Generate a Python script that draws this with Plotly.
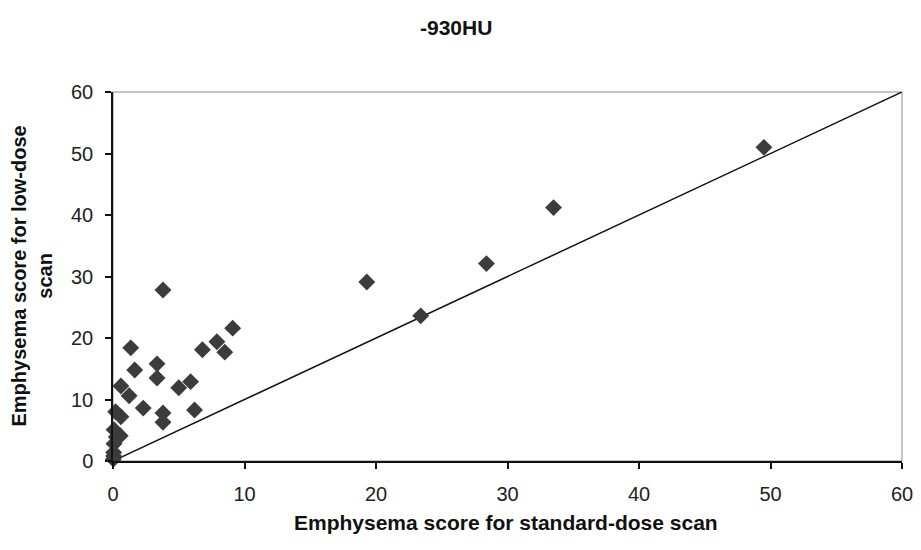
import plotly.graph_objects as go

# standard-dose score (x) vs low-dose score (y)
standard_dose = [49.5, 33.5, 28.4, 23.4, 19.3, 3.8, 9.1, 7.9, 8.5, 6.8,
                 1.35, 3.35, 1.65, 3.35, 5.9, 5.0, 0.6, 1.23, 2.3, 6.2,
                 3.8, 3.8, 0.2, 0.6, 0.08, 0.55, 0.25, 0.08, 0.05, 0.05, 0.03]
low_dose = [51.0, 41.2, 32.1, 23.6, 29.1, 27.8, 21.6, 19.4, 17.7, 18.1,
            18.4, 15.8, 14.8, 13.5, 12.9, 11.9, 12.2, 10.6, 8.6, 8.3,
            7.8, 6.3, 8.0, 7.2, 5.1, 4.1, 3.9, 2.8, 1.4, 0.8, 0.3]
identity_line = [0, 60]

ticks = [0, 10, 20, 30, 40, 50, 60]
tick_labels = ["0", "10", "20", "30", "40", "50", "60"]

chart_title = "-930HU"
x_title = "Emphysema score for standard-dose scan"
y_title = "Emphysema score for low-dose<br>scan"

font_family = "Liberation Sans, Arial, sans-serif"
ink = "#111111"

fig = go.Figure()
fig.add_trace(go.Scatter(
    x=identity_line, y=identity_line, mode="lines",
    line=dict(color=ink, width=1.5), showlegend=False, hoverinfo="skip"))
fig.add_trace(go.Scatter(
    x=standard_dose, y=low_dose, mode="markers", cliponaxis=False,
    marker=dict(symbol="diamond", size=13, color="#3c3c3c"),
    showlegend=False))

# page has an 8px body margin; plot box in page pixels: x 113..902, y 92..461
OFF = 8
PX0, PX1, PY0, PY1 = 113, 902, 92, 461
W, H = 921 - OFF, 550 - OFF
L, T = PX0 - OFF, PY0 - OFF
R, B = W - (PX1 - OFF), H - (PY1 - OFF)
pw, ph = PX1 - PX0, PY1 - PY0

def px(xp):
    return (xp - PX0) / pw

def py(yp):
    return (PY1 - yp) / ph

fig.update_layout(
    width=W, height=H,
    margin=dict(l=L, r=R, t=T, b=B, autoexpand=False),
    paper_bgcolor="white", plot_bgcolor="white",
    font=dict(family=font_family, color=ink),
    shapes=[dict(type="rect", xref="paper", yref="paper", x0=0, y0=0, x1=1, y1=1,
                 line=dict(color="#8c8c8c", width=1), layer="below")],
    annotations=[
        dict(text="<b>" + chart_title + "</b>", xref="paper", yref="paper",
             x=px(456), y=py(27), xanchor="center", yanchor="middle",
             showarrow=False, font=dict(size=21, color=ink)),
        dict(text="<b>" + x_title + "</b>", xref="paper", yref="paper",
             x=px(506), y=py(522), xanchor="center", yanchor="middle",
             showarrow=False, font=dict(size=21, color=ink)),
        dict(text="<b>" + y_title + "</b>", xref="paper", yref="paper",
             x=px(31), y=0.5, xanchor="center", yanchor="middle",
             textangle=-90, showarrow=False, font=dict(size=20, color=ink)),
    ],
)
axis_style = dict(
    range=[0, 60], tickvals=ticks, ticktext=tick_labels,
    showgrid=False, zeroline=False, automargin=False,
    showline=True, linecolor=ink, linewidth=1.5,
    ticks="outside", ticklen=6, tickcolor=ink, tickwidth=1.5,
    tickfont=dict(size=20, color="#222222"),
)
fig.update_xaxes(**axis_style, ticklabelstandoff=8)
fig.update_yaxes(**axis_style, ticklabelstandoff=8)

fig.write_html("out.html")
